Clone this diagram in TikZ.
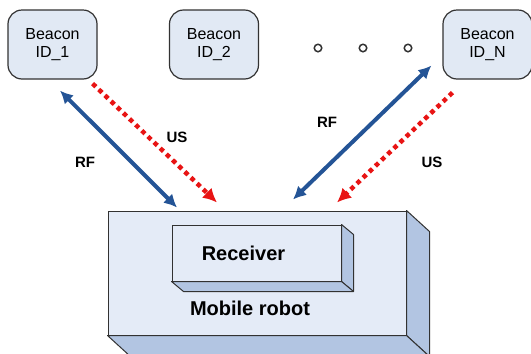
\documentclass[tikz,border=0pt]{standalone}
\usepackage{fontspec}
\setmainfont{Liberation Sans}
\usetikzlibrary{arrows.meta,positioning,calc}
\definecolor{beaconFill}{RGB}{225,233,244}
\definecolor{faceFill}{RGB}{228,235,247}
\definecolor{sideFill}{RGB}{178,197,226}
\definecolor{rfBlue}{RGB}{36,84,150}
\definecolor{usRed}{RGB}{232,20,20}
\definecolor{edgeGray}{RGB}{50,50,50}

\begin{document}
\begin{tikzpicture}[
    x=1pt, y=-1pt,
    beacon/.style={rectangle, draw=edgeGray, line width=1.2pt, rounded corners=14pt, fill=beaconFill, minimum width=89pt, minimum height=69pt, align=center, font=\fontsize{16}{18}\selectfont},
    face/.style={rectangle, draw=edgeGray, line width=1pt, fill=faceFill, inner sep=0pt},
    side/.style={draw=edgeGray, line width=1pt, fill=sideFill, line join=round},
    lbl/.style={font=\fontsize{15}{18}\selectfont\bfseries},
    biglbl/.style={font=\fontsize{20}{24}\selectfont\bfseries},
    rf/.style={{Latex[length=13pt,width=13pt]}-{Latex[length=13pt,width=13pt]}, rfBlue, line width=4pt},
    us/.style={-{Latex[length=14pt,width=14pt]}, usRed, line width=4.5pt, dash pattern=on 4.5pt off 4pt},
    dot/.style={circle, draw=edgeGray, line width=1.5pt, minimum size=7.5pt, inner sep=0pt}
]
    \useasboundingbox (0,0) rectangle (531,354);

    \node[beacon] (b1) at (52.5,44.5) {Beacon\\ID\_1};
    \node[beacon] (b2) at (214,44.5) {Beacon\\ID\_2};
    \node[beacon] (bn) at (487.5,44.5) {Beacon\\ID\_N};
    \node[dot] (d1) at (318,48) {};
    \node[dot, right=36pt of d1] (d2) {};
    \node[dot, right=36pt of d2] (d3) {};

    % mobile robot block
    \node[face, minimum width=298pt, minimum height=124pt] (robot) at (257,273) {};
    \draw[side] (robot.north east) -- ++(23,21) -- ($(robot.south east)+(23,21)$) -- (robot.south east) -- cycle;
    \draw[side] (robot.south west) -- ++(23,21) -- ($(robot.south east)+(23,21)$) -- (robot.south east) -- cycle;

    % receiver block
    \node[face, biglbl, minimum width=169pt, minimum height=56pt] (recv) at (256.5,253) {Receiver\hspace*{26pt}};
    \draw[side] (recv.north east) -- ++(12,10) -- ($(recv.south east)+(12,10)$) -- (recv.south east) -- cycle;
    \draw[side] (recv.south west) -- ++(12,10) -- ($(recv.south east)+(12,10)$) -- (recv.south east) -- cycle;
    \node[biglbl] (robotlbl) at (250,308) {Mobile robot};

    % links
    \draw[rf] ([xshift=7.5pt,yshift=-11pt]b1.south) -- ([xshift=-80pt,yshift=3pt]robot.north);
    \draw[us] ([xshift=-5pt,yshift=-4pt]b1.south east) -- ([xshift=-40pt,yshift=8pt]robot.north);
    \draw[rf] ([xshift=36pt,yshift=11pt]robot.north) -- ([xshift=-11pt,yshift=14pt]bn.south west);
    \draw[us] ([xshift=-35pt,yshift=-13pt]bn.south) -- ([xshift=80pt,yshift=8pt]robot.north);

    \node[lbl] (us1) at (177,137) {US};
    \node[lbl] (rf1) at (85,162) {RF};
    \node[lbl] (rf2) at (327,122) {RF};
    \node[lbl] (us2) at (432,162) {US};
\end{tikzpicture}
\end{document}
